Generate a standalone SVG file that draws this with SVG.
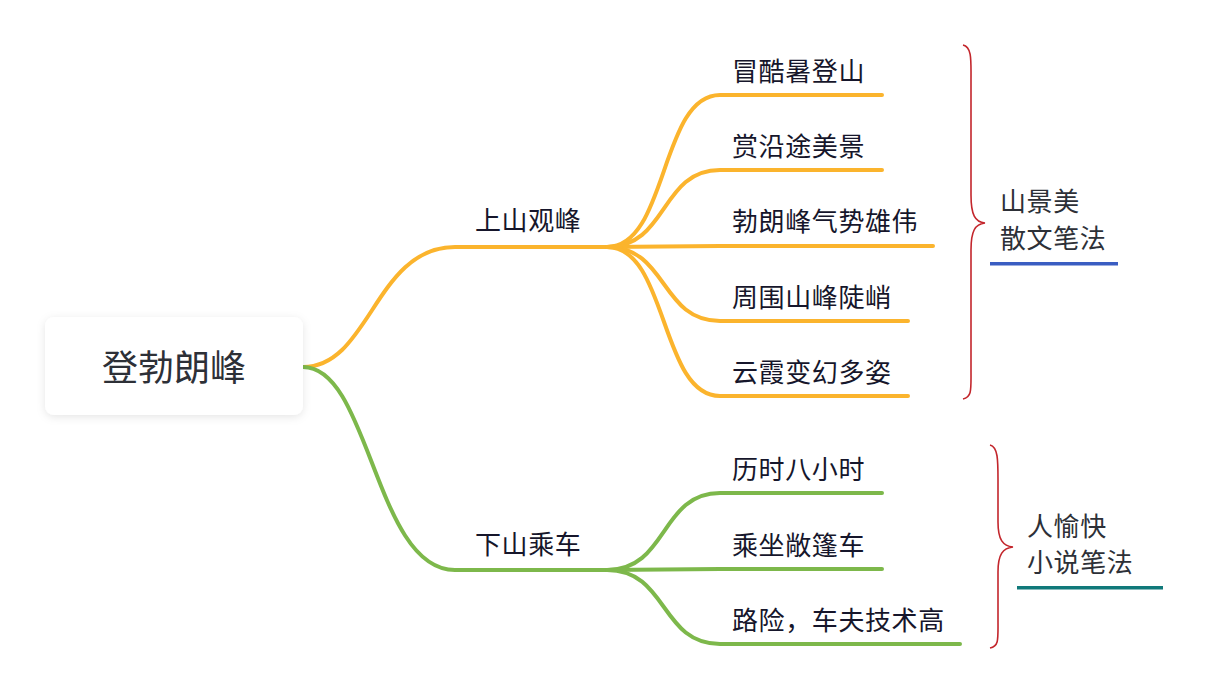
<svg xmlns="http://www.w3.org/2000/svg" width="1207" height="693" viewBox="0 0 1207 693">
<defs>
<filter id="sh" x="-20%" y="-30%" width="140%" height="160%">
<feDropShadow dx="0" dy="2" stdDeviation="4" flood-color="#000" flood-opacity="0.10"/>
</filter>
<style>
.t{font-family:"Noto Sans CJK SC","Noto Sans",sans-serif;fill:#16162b;font-size:26px;letter-spacing:0.6px}
.n{font-family:"Noto Sans CJK SC","Noto Sans",sans-serif;fill:#2d3037;font-size:26px;letter-spacing:0.6px}
.y{fill:none;stroke:#fbb42d;stroke-width:4;stroke-linecap:round}
.g{fill:none;stroke:#7db84b;stroke-width:4;stroke-linecap:round}
.b{fill:none;stroke:#c3262c;stroke-width:1.6}
</style>
</defs>
<rect width="1207" height="693" fill="#fff"/>
<g id="connectors">
<path class="y" d="M303,367 C370,367 375,247 455,247 L607,247"/>
<path class="g" d="M303,367 C370,367 375,570 455,570 L607,570"/>
<path class="y" d="M607,247 C668,247 660,95 720,95 L882,95"/>
<path class="y" d="M607,247 C668,247 660,170 720,170 L882,170"/>
<path class="y" d="M607,247 L720,246 L933,246"/>
<path class="y" d="M607,247 C668,247 660,321 720,321 L908,321"/>
<path class="y" d="M607,247 C668,247 660,396 720,396 L908,396"/>
<path class="g" d="M607,570 C668,570 660,493 720,493 L882,493"/>
<path class="g" d="M607,570 L720,569 L882,569"/>
<path class="g" d="M607,570 C668,570 660,644 720,644 L960,644"/>
</g>
<g id="root">
<rect x="45" y="317" width="258" height="98" rx="9" fill="#fff" filter="url(#sh)"/>
<text class="n" x="174" y="381" text-anchor="middle" style="font-size:36px;letter-spacing:0">登勃朗峰</text>
</g>
<g id="n-up"><text class="t" x="475" y="230">上山观峰</text></g>
<g id="n-down"><text class="t" x="475" y="554">下山乘车</text></g>
<g id="n-u1"><text class="t" x="732" y="81">冒酷暑登山</text></g>
<g id="n-u2"><text class="t" x="732" y="156">赏沿途美景</text></g>
<g id="n-u3"><text class="t" x="732" y="231">勃朗峰气势雄伟</text></g>
<g id="n-u4"><text class="t" x="732" y="307">周围山峰陡峭</text></g>
<g id="n-u5"><text class="t" x="732" y="382">云霞变幻多姿</text></g>
<g id="n-d1"><text class="t" x="732" y="479">历时八小时</text></g>
<g id="n-d2"><text class="t" x="732" y="555">乘坐敞篷车</text></g>
<g id="n-d3"><text class="t" x="732" y="630">路险，车夫技术高</text></g>
<g id="summary1">
<path class="b" d="M963,45 C972,47 971,60 971,80 L971,195 C971,215 975,222 985,223 C975,224 971,231 971,250 L971,370 C971,390 972,397 963,399"/>
<text class="n" x="1000" y="211">山景美</text>
<text class="n" x="1000" y="248">散文笔法</text>
<rect x="990" y="262" width="128" height="3.5" fill="#3a5dc2"/>
</g>
<g id="summary2">
<path class="b" d="M990,445 C998,447 998,460 998,480 L998,522 C998,540 1003,546 1013,547 C1003,548 998,554 998,572 L998,620 C998,640 999,646 990,648"/>
<text class="n" x="1027" y="536">人愉快</text>
<text class="n" x="1027" y="572">小说笔法</text>
<rect x="1017" y="586" width="146" height="3.5" fill="#10797a"/>
</g>
</svg>
